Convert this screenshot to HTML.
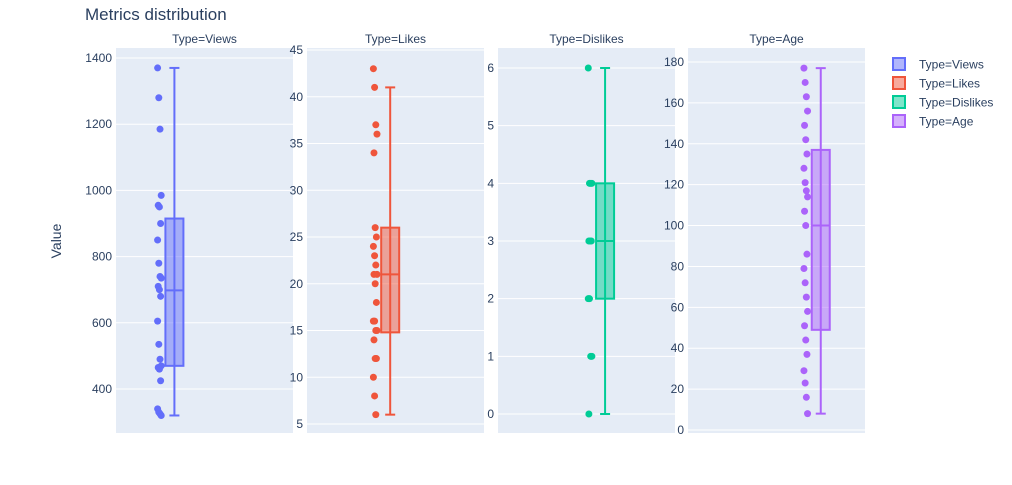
<!DOCTYPE html>
<html><head><meta charset="utf-8"><style>
body{margin:0;background:#fff;font-family:"Liberation Sans",Arial,sans-serif}
svg text{font-family:"Liberation Sans",Arial,sans-serif}
</style></head><body>
<svg id="c" width="1012" height="480" xmlns="http://www.w3.org/2000/svg">
<text x="85" y="20" font-size="17" fill="#2a3f5f">Metrics distribution</text>
<text transform="translate(61,241) rotate(-90)" text-anchor="middle" font-size="14" fill="#2a3f5f">Value</text>
</svg>
<script>
const categories=["Views","Likes","Dislikes","Age"];
const colors=["#636efa","#EF553B","#00cc96","#ab63fa"];
const viewsPts=[1370,1280,1185,985,955,950,900,850,780,740,735,710,700,680,605,535,490,470,465,460,425,340,330,325,320];
const likesPts=[43,41,37,36,34,26,25,24,23,22,21,21,20,18,16,16,15,15,14,12,12,10,8,6];
const dislikesPts=[6,4,4,4,3,3,3,2,2,1,1,0];
const agePts=[177,170,163,156,149,142,135,128,121,117,114,107,100,86,79,72,65,58,51,44,37,29,23,16,8];
const boxStats=[[320,470,698,915,1370],[6,14.8,21,26,41],[0,2,3,4,6],[8,49,100,137,177]];
const ticks=[[400,600,800,1000,1200,1400],[5,10,15,20,25,30,35,40,45],[0,1,2,3,4,5,6],[0,20,40,60,80,100,120,140,160,180]];
const points=[viewsPts,likesPts,dislikesPts,agePts];
// axis calibration: [value a, pixel a, value b, pixel b]
const cal=[[400,389,1400,58],[5,424,45,50],[0,414,6,68],[0,430,180,62]];
const panelX=[116,307,498,688], panelW=177, plotTop=48, plotBottom=433;
const boxFrac=[0.33,0.47,0.605,0.75];
const svg=document.getElementById('c');
const NS="http://www.w3.org/2000/svg";
function mk(t,a,p){const e=document.createElementNS(NS,t);for(const k in a)e.setAttribute(k,a[k]);(p||svg).appendChild(e);return e;}
function hexA(h,a){const n=parseInt(h.slice(1),16);return `rgba(${n>>16},${(n>>8)&255},${n&255},${a})`;}
categories.forEach((cat,i)=>{
  const c=cal[i]; const y=v=>c[1]+(v-c[0])*(c[3]-c[1])/(c[2]-c[0]);
  const g=mk('g',{});
  
  
  const x0=panelX[i];
  mk('rect',{x:x0,y:plotTop,width:panelW,height:plotBottom-plotTop,fill:'#e5ecf6'},g);
  const t=mk('text',{x:x0+panelW/2,y:43,'text-anchor':'middle','font-size':12,fill:'#2a3f5f'},g);
  t.textContent='Type='+cat;
  
  
  ticks[i].forEach(v=>{
    const yy=y(v);
    mk('line',{x1:x0,x2:x0+panelW,y1:yy,y2:yy,stroke:'#fff','stroke-width':1},g);
    const tl=mk('text',{x:x0-4,y:yy+4,'text-anchor':'end','font-size':12,fill:'#2a3f5f'},g);
    tl.textContent=v;
    
    
  });
  const cx=x0+panelW*boxFrac[i], col=colors[i], s=boxStats[i];
  const wl=mk('line',{x1:cx,x2:cx,y1:y(s[0]),y2:y(s[4]),stroke:col,'stroke-width':2},g);
  
  
  [s[0],s[4]].forEach(v=>mk('line',{x1:cx-5,x2:cx+5,y1:y(v),y2:y(v),stroke:col,'stroke-width':2},g));
  const b=mk('rect',{x:cx-9,y:y(s[3]),width:18,height:y(s[1])-y(s[3]),fill:hexA(col,0.5),stroke:col,'stroke-width':2},g);
  
  
  mk('line',{x1:cx-9,x2:cx+9,y1:y(s[2]),y2:y(s[2]),stroke:col,'stroke-width':2},g);
  points[i].forEach((v,j)=>{
    const p=mk('circle',{cx:cx-15+((j*37)%7-3)*0.6,cy:y(v),r:3.5,fill:col},g);
    
    
  });
  const lg=mk('g',{});
  
  
  const ly=64+i*19;
  mk('rect',{x:893,y:ly-6,width:12,height:12,fill:hexA(col,0.5),stroke:col,'stroke-width':2},lg);
  const lt=mk('text',{x:919,y:ly+4.5,'font-size':12,fill:'#2a3f5f'},lg);
  lt.textContent='Type='+cat;
});
</script>
</body></html>
